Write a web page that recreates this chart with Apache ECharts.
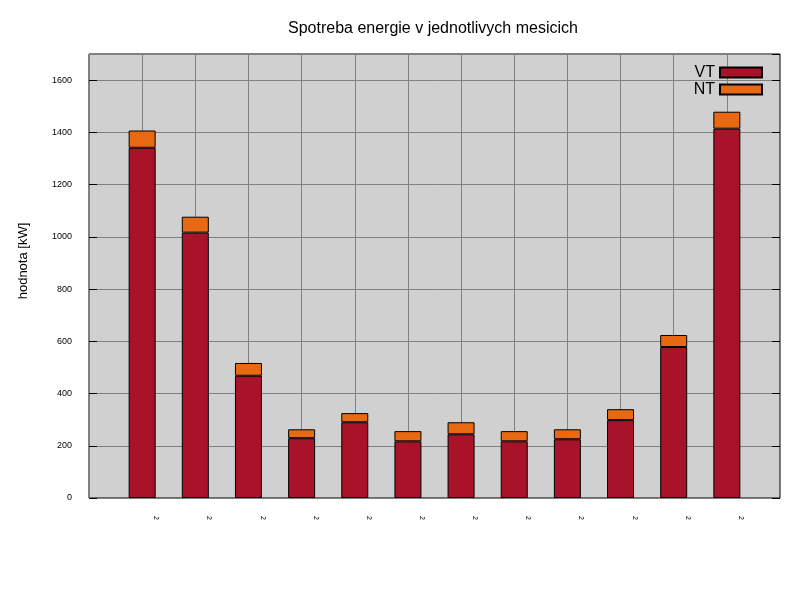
<!DOCTYPE html>
<html><head><meta charset="utf-8">
<script src="https://cdn.jsdelivr.net/npm/echarts@6/dist/echarts.min.js"></script>
<style>html,body{margin:0;padding:0;background:#fff}#c{width:800px;height:600px}</style>
</head><body><div id="c"></div>
<script>
const categories = ['2','2','2','2','2','2','2','2','2','2','2','2'];
const vtValues = [1341, 1016, 468, 229, 290, 217, 244, 217, 225, 298, 578, 1414];
const ntValues = [66, 61, 49, 34, 35, 39, 46, 39, 38, 42, 46, 65];
const yTicks = [0, 200, 400, 600, 800, 1000, 1200, 1400, 1600];

// axis runs from an empty slot before the first month to an empty slot after the last
const axisCats = [''].concat(categories, ['']);
const pad = arr => [null].concat(arr, [null]);
const font = 'Liberation Sans, Arial, sans-serif';
const chart = echarts.init(document.getElementById('c'), null, {renderer: 'canvas'});
chart.setOption({
  backgroundColor: '#fff',
  animation: false,
  textStyle: {fontFamily: font},
  title: {
    text: 'Spotreba energie v jednotlivych mesicich',
    left: 283, top: 16,
    textStyle: {fontSize: 16, fontWeight: 'normal', color: '#000', fontFamily: font}
  },
  legend: {
    data: ['VT', 'NT'],
    orient: 'vertical', align: 'right',
    right: 32, top: 59,
    itemWidth: 42, itemHeight: 10, itemGap: 0,
    icon: 'rect',
    textStyle: {fontSize: 16, color: '#000', lineHeight: 17, fontFamily: font}
  },
  grid: {
    left: 89, right: 20, top: 54, bottom: 102,
    show: true, backgroundColor: '#d0d0d0', borderColor: '#000', borderWidth: 1
  },
  xAxis: {
    type: 'category', data: axisCats, boundaryGap: false,
    axisLine: {show: false},
    axisTick: {show: false},
    splitLine: {show: true, interval: 0, lineStyle: {color: '#808080', width: 1}},
    axisLabel: {
      rotate: -90, fontSize: 7, color: '#000', margin: 18, interval: 0,
      lineHeight: 28,
      align: 'left', verticalAlign: 'bottom'
    }
  },
  yAxis: [{
    type: 'value', min: 0, max: 1700, interval: 200,
    name: 'hodnota [kW]', nameLocation: 'middle', nameGap: 59, nameRotate: 90,
    nameTextStyle: {fontSize: 13, color: '#000', fontFamily: font, padding: [0, 0, 0, 30]},
    axisLine: {show: false},
    axisTick: {show: true, inside: true, length: 8, lineStyle: {color: '#000'}},
    splitLine: {show: true, lineStyle: {color: '#808080', width: 1}},
    axisLabel: {fontSize: 9, color: '#000', margin: 17, showMaxLabel: false,
      formatter: v => yTicks.indexOf(v) >= 0 ? String(v) : ''}
  }, {
    type: 'value', min: 0, max: 1700, interval: 200, position: 'right',
    axisLine: {show: false},
    axisTick: {show: true, inside: true, length: 8, lineStyle: {color: '#000'}},
    splitLine: {show: false},
    axisLabel: {show: false}
  }],
  series: [{
    name: 'VT', type: 'bar', stack: 'total', barWidth: 27,
    itemStyle: {color: '#a8132a', borderColor: '#000', borderWidth: 1},
    data: pad(vtValues)
  }, {
    name: 'NT', type: 'bar', stack: 'total', barWidth: 27,
    itemStyle: {color: '#e86912', borderColor: '#000', borderWidth: 1},
    data: pad(ntValues)
  }]
});
</script></body></html>
